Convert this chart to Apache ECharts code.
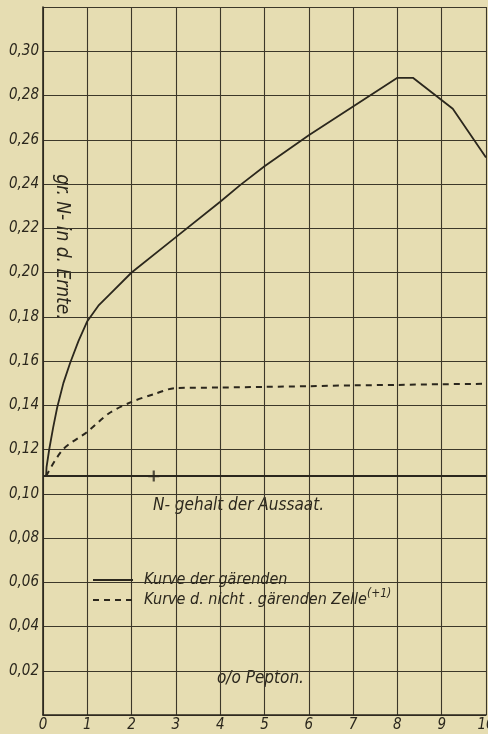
<!DOCTYPE html>
<html>
<head>
<meta charset="utf-8">
<script src="https://cdn.jsdelivr.net/npm/echarts@6/dist/echarts.min.js"></script>
<style>
  html, body { margin: 0; padding: 0; background: #e6ddb2; }
  #main { width: 488px; height: 734px; }
</style>
</head>
<body>
<div id="main"></div>
<script>
// Kurve der gärenden (solid)
var gaerX = [0.07, 0.08, 0.14, 0.23, 0.32, 0.46, 0.61, 0.8, 1.0, 1.25, 1.5, 2, 3, 4, 4.45, 5, 6, 7, 8, 8.35, 9.25, 10];
var gaerY = [0.108, 0.112, 0.12, 0.13, 0.139, 0.15, 0.159, 0.169, 0.178, 0.185, 0.19, 0.2, 0.216, 0.232, 0.2395, 0.248, 0.262, 0.275, 0.288, 0.288, 0.274, 0.252];
// Kurve d. nicht gärenden Zelle (dashed)
var nichtX = [0.07, 0.45, 1, 1.5, 2, 2.5, 3, 4, 5, 6, 7, 8, 9, 10];
var nichtY = [0.108, 0.12, 0.128, 0.1365, 0.1415, 0.145, 0.1478, 0.148, 0.1483, 0.1486, 0.149, 0.1492, 0.1495, 0.1497];
// N-gehalt der Aussaat
var aussaatX = [0, 10];
var aussaatY = [0.108, 0.108];
var plusMark = [2.5, 0.108];

var xTicks = ['0', '1', '2', '3', '4', '5', '6', '7', '8', '9', '10'];
var yTicks = ['', '0,02', '0,04', '0,06', '0,08', '0,10', '0,12', '0,14', '0,16', '0,18', '0,20', '0,22', '0,24', '0,26', '0,28', '0,30', ''];

function pairs(xs, ys) {
    return xs.map(function (x, i) { return [x, ys[i]]; });
}

var ink = '#2b271d';
var font = 'DejaVu Sans Condensed, DejaVu Sans, sans-serif';

var myChart = echarts.init(document.getElementById('main'));
var option = {
    backgroundColor: '#e6ddb2',
    animation: false,
    grid: {left: 43, right: 2, top: 7, bottom: 19, outerBoundsMode: 'none', containLabel: false},
    legend: {
        left: 87,
        top: 567,
        orient: 'vertical',
        itemWidth: 40,
        itemHeight: 12,
        itemGap: 0,
        itemStyle: {opacity: 0},
        data: ['Kurve der gärenden', 'Kurve d. nicht . gärenden Zelle'],
        formatter: function (name) {
            if (name === 'Kurve der gärenden') return name;
            return name + '{sup|(+1)}';
        },
        textStyle: {
            color: ink,
            fontStyle: 'italic',
            fontFamily: font,
            fontSize: 16,
            padding: [0, 0, 0, 6],
            rich: {
                sup: {fontSize: 12, fontStyle: 'italic', fontFamily: font, color: ink, verticalAlign: 'bottom', padding: [0, 0, 12, 0]}
            }
        }
    },
    xAxis: {
        type: 'value',
        min: 0,
        max: 10,
        interval: 1,
        axisLine: {lineStyle: {color: ink, width: 1.6}},
        axisTick: {show: false},
        splitLine: {lineStyle: {color: '#3c3729', width: 1.1}},
        axisLabel: {
            margin: 3,
            color: ink,
            fontStyle: 'italic',
            fontFamily: font,
            fontSize: 15,
            formatter: function (v) { return xTicks[Math.round(v)]; }
        }
    },
    yAxis: {
        type: 'value',
        min: 0,
        max: 0.32,
        interval: 0.02,
        axisLine: {show: true, lineStyle: {color: ink, width: 1.6}},
        axisTick: {show: false},
        splitLine: {lineStyle: {color: '#3c3729', width: 1.1}},
        axisLabel: {
            margin: 4,
            color: ink,
            fontStyle: 'italic',
            fontFamily: font,
            fontSize: 15,
            formatter: function (v) { return yTicks[Math.round(v / 0.02)]; }
        }
    },
    graphic: [
        {
            type: 'text',
            left: 153, top: 497,
            style: {text: 'N- gehalt der Aussaat.', fill: ink, font: 'italic 17px ' + font}
        },
        {
            type: 'text',
            left: 217, top: 670,
            style: {text: 'o/o Pepton.', fill: ink, font: 'italic 17px ' + font}
        },
        {
            type: 'text',
            x: 62, y: 247,
            rotation: -Math.PI / 2,
            style: {text: 'gr. N- in d. Ernte.', fill: ink, font: 'italic 19px ' + font, align: 'center', verticalAlign: 'middle'}
        }
    ],
    series: [
        {
            name: 'Kurve der gärenden',
            type: 'line',
            symbol: 'none',
            data: pairs(gaerX, gaerY),
            lineStyle: {color: ink, width: 1.8},
            itemStyle: {color: ink}
        },
        {
            name: 'Kurve d. nicht . gärenden Zelle',
            type: 'line',
            symbol: 'none',
            smooth: 0.3,
            data: pairs(nichtX, nichtY),
            lineStyle: {color: ink, width: 2, type: [6, 5]},
            itemStyle: {color: ink}
        },
        {
            name: 'Aussaat',
            type: 'line',
            symbol: 'none',
            data: pairs(aussaatX, aussaatY),
            lineStyle: {color: ink, width: 2}
        },
        {
            name: 'plus',
            type: 'scatter',
            symbol: 'path://M4,0 L6,0 L6,4 L10,4 L10,6 L6,6 L6,10 L4,10 L4,6 L0,6 L0,4 L4,4 Z',
            symbolSize: 11,
            itemStyle: {color: ink},
            data: [plusMark]
        }
    ]
};
myChart.setOption(option);
</script>
</body>
</html>
